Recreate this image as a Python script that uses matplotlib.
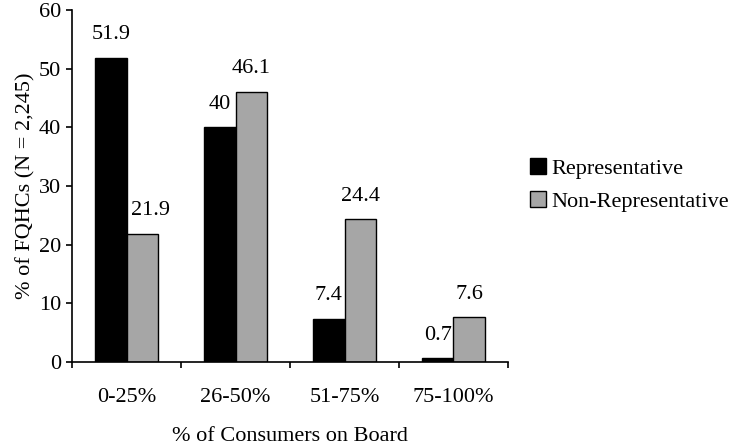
import numpy as np
import matplotlib.pyplot as plt

# Datos
categorias = ['0-25%', '26-50%', '51-75%', '75-100%']
representativo = [51.9, 40, 7.4, 0.7]
no_representativo = [21.9, 46.1, 24.4, 7.6]
etiquetas_rep = ['51.9', '40', '7.4', '0.7']
etiquetas_norep = ['21.9', '46.1', '24.4', '7.6']

plt.rcParams['font.family'] = ['Liberation Serif', 'DejaVu Serif']
plt.rcParams['font.size'] = 16

fig = plt.figure(figsize=(7.35, 4.45), dpi=100)
ax = fig.add_axes([72 / 735, 1 - 362 / 445, (508 - 72) / 735, (362 - 10) / 445])

x = np.arange(len(categorias))
ancho = 0.29
b1 = ax.bar(x - ancho / 2, representativo, ancho, color='black', edgecolor='black',
            linewidth=1, label='Representative')
b2 = ax.bar(x + ancho / 2, no_representativo, ancho, color='#a6a6a6', edgecolor='black',
            linewidth=1, label='Non-Representative')

# Etiquetas de valores sobre las barras
for i, (v, t) in enumerate(zip(representativo, etiquetas_rep)):
    ax.annotate(t, (x[i] - ancho / 2, v), xytext=(0, 9.5), textcoords='offset points',
                ha='center', va='bottom')
for i, (v, t) in enumerate(zip(no_representativo, etiquetas_norep)):
    dx = 6 if i == 0 else 0
    ax.annotate(t, (x[i] + ancho / 2, v), xytext=(dx, 9.5), textcoords='offset points',
                ha='center', va='bottom')

ax.set_xlim(-0.5, len(categorias) - 0.5)
ax.set_ylim(0, 60)
ax.set_yticks(range(0, 61, 10))
ax.set_xticks(np.arange(len(categorias) + 1) - 0.5)
ax.set_xticklabels([])
ax.set_xticks(x, minor=True)
ax.set_xticklabels(categorias, minor=True)
ax.tick_params(axis='x', which='minor', length=0, pad=19)
ax.tick_params(axis='x', which='major', length=4, width=1.2, direction='out')
ax.tick_params(axis='y', length=4, width=1.2, direction='out', pad=4)

for s in ['top', 'right']:
    ax.spines[s].set_visible(False)
ax.spines['left'].set_linewidth(1.2)
ax.spines['bottom'].set_linewidth(1.2)

ax.set_ylabel('% of FQHCs (N = 2,245)', labelpad=2)
ax.set_xlabel('% of Consumers on Board', labelpad=14)

fig.legend(handles=[b1, b2], loc='center left', bbox_to_anchor=(530 / 735, 1 - 185 / 445),
           frameon=False, borderpad=0, handlelength=0.72, handleheight=0.72,
           handletextpad=0.25, labelspacing=0.58, borderaxespad=0)

fig.savefig('out.png', dpi=100)
